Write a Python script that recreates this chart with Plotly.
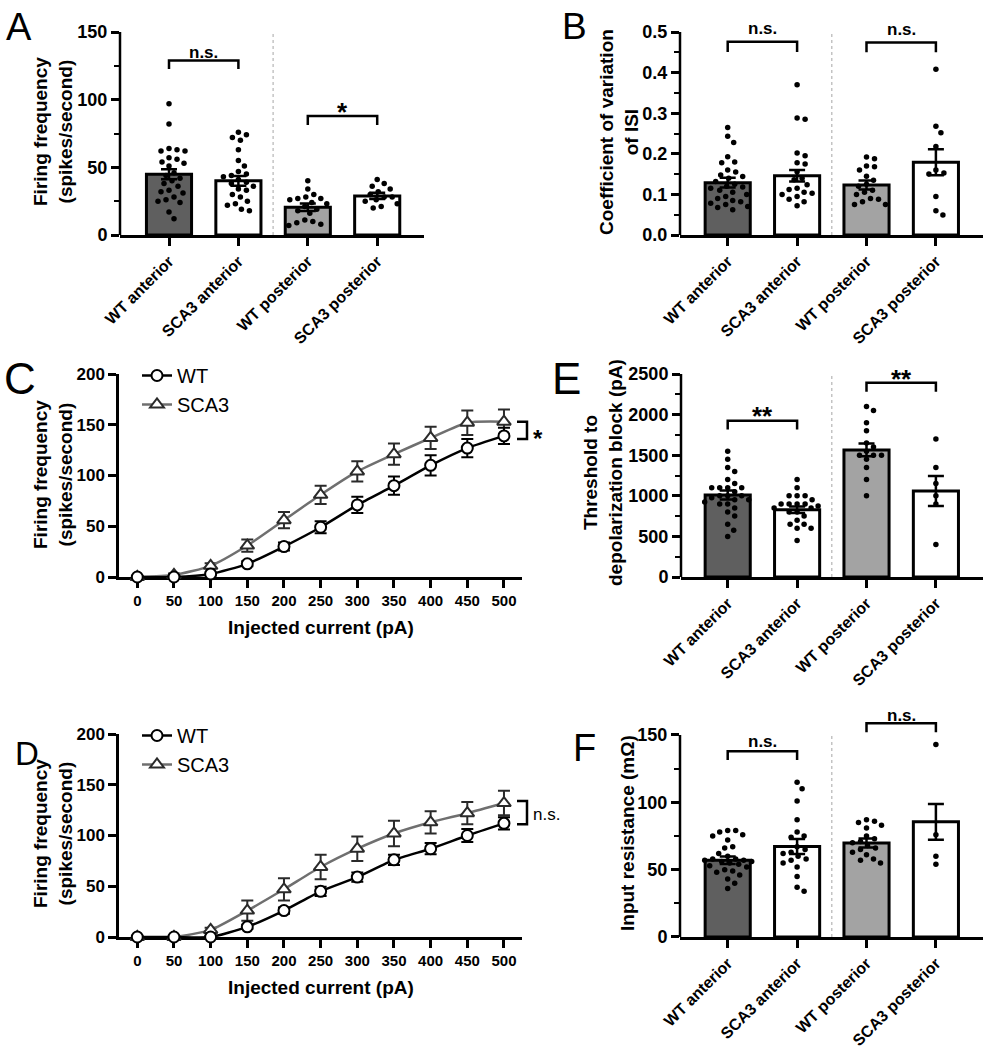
import plotly.graph_objects as go

# ---------------- data ----------------
categories = ["WT anterior", "SCA3 anterior", "WT posterior", "SCA3 posterior"]

# Panel A: firing frequency (spikes/second)
A_mean = [44.9, 40.0, 20.5, 28.9]
A_sem = [3.7, 3.6, 2.7, 2.3]
A_wt_ant = [97, 82, 64, 62, 63, 62, 57, 56, 54, 53, 51, 46, 44, 42, 40, 38, 36, 33, 32, 31, 28, 26, 25, 24, 17, 12]
A_sca3_ant = [76, 74, 72, 70, 63, 55, 51, 47, 45, 44, 43, 41, 39, 38, 36, 34, 33, 30, 28, 25, 23, 22, 19, 18]
A_wt_post = [40, 34, 30, 28, 27, 27, 26, 24, 23, 21, 19, 18, 16, 11, 10, 9, 8, 7]
A_sca3_post = [41, 38, 36, 34, 32, 30, 28, 28, 26, 25, 23, 21, 20]

# Panel B: coefficient of variation of ISI
B_mean = [0.129, 0.146, 0.123, 0.179]
B_sem = [0.012, 0.014, 0.011, 0.032]
B_wt_ant = [0.265, 0.243, 0.228, 0.193, 0.18, 0.178, 0.16, 0.155, 0.148, 0.144, 0.14, 0.132, 0.125, 0.12,
            0.118, 0.115, 0.11, 0.105, 0.1, 0.095, 0.09, 0.085, 0.082, 0.078, 0.075, 0.07, 0.068, 0.062]
B_sca3_ant = [0.37, 0.288, 0.285, 0.202, 0.195, 0.178, 0.175, 0.156, 0.14, 0.136, 0.124, 0.115, 0.112,
              0.105, 0.103, 0.1, 0.095, 0.088, 0.082, 0.072]
B_wt_post = [0.192, 0.188, 0.17, 0.168, 0.16, 0.145, 0.135, 0.125, 0.12, 0.11, 0.105, 0.1, 0.09, 0.088,
             0.082, 0.075, 0.075]
B_sca3_post = [0.408, 0.268, 0.252, 0.218, 0.16, 0.153, 0.15, 0.095, 0.06, 0.049]

# Panel E: threshold to depolarization block (pA)
E_mean = [1010, 829, 1565, 1060]
E_sem = [55, 40, 78, 185]
E_wt_ant = [1550, 1450, 1350, 1300, 1200, 1150, 1100, 1100, 1100, 1100, 1050, 1000, 1000, 1000, 975,
            950, 950, 925, 900, 900, 850, 800, 750, 650, 575, 500]
E_sca3_ant = [1200, 1100, 1000, 1000, 1000, 950, 900, 900, 900, 900, 875, 850, 850, 800, 800, 750, 700,
              650, 650, 600, 600, 450]
E_wt_post = [2100, 2050, 1900, 1800, 1650, 1600, 1550, 1500, 1500, 1500, 1450, 1350, 1200, 1000]
E_sca3_post = [1700, 1350, 1150, 1000, 900, 400]

# Panel F: input resistance
F_mean = [57.0, 67.2, 69.8, 85.5]
F_sem = [2.7, 5.5, 3.3, 13.2]
F_wt_ant = [79, 79, 78, 76, 75, 72, 67, 66, 62, 60, 58, 58, 57, 57, 56, 56, 55, 54, 53, 52, 50, 49, 48,
            46, 43, 40, 36]
F_sca3_ant = [115, 110, 101, 87, 78, 75, 74, 67, 65, 63, 62, 60, 58, 57, 55, 52, 45, 37, 34]
F_wt_post = [87, 86, 85, 83, 81, 75, 73, 71, 70, 68, 66, 65, 63, 61, 58, 57, 55]
F_sca3_post = [143, 76, 60, 54]

# Panels C / D: current injection (pA) vs firing frequency
current = [0, 50, 100, 150, 200, 250, 300, 350, 400, 450, 500]
C_wt = [0, 0, 3, 13, 30, 49, 71, 90, 110, 127, 139]
C_wt_sem = [1, 1, 1.5, 2.5, 4, 6, 8, 9, 10, 9, 8]
C_sca3 = [0, 2, 11, 31, 56, 81, 104, 121, 137, 152, 153]
C_sca3_sem = [1, 1.5, 2.5, 6, 8, 9, 10, 10.5, 11, 12, 12]
D_wt = [0, 0, 0, 10, 26, 45, 59, 76, 87, 100, 112]
D_wt_sem = [0.5, 0.5, 1, 2, 3, 4.5, 4.5, 5, 5.5, 6.5, 6]
D_sca3 = [0, 0, 7, 26, 47, 69, 87, 102, 113, 122, 132]
D_sca3_sem = [0.5, 0.5, 2, 10, 11, 12, 12, 12.5, 11, 11, 12]

# ---------------- layout helpers ----------------
W, H = 993, 1050
FONT = "Liberation Sans, Arial, sans-serif"


def px(x):
    return x / W


def py(y):
    return 1 - y / H


fig = go.Figure()
shapes = []
annotations = []
layout_axes = {}

bar_colors = ["#5f5f5f", "#ffffff", "#a3a3a3", "#ffffff"]
CAT_PX = 69.4  # pixels per category


def swarm(vals, ppu, dot=8.0, maxoff=24):
    """simple beeswarm: returns x offsets (pixels) for each value"""
    order = sorted(range(len(vals)), key=lambda i: -vals[i])
    placed = []
    offs = [0.0] * len(vals)
    cands = [0]
    for m in range(1, maxoff + 1):
        cands += [m, -m]
    for i in order:
        yv = vals[i] * ppu
        best, bestd = 0, -1
        for c in cands:
            dmin = min([((c - a) ** 2 + (yv - b) ** 2) ** 0.5 for a, b in placed] or [1e9])
            if dmin >= dot:
                best = c
                break
            if dmin > bestd:
                best, bestd = c, dmin
        offs[i] = best
        placed.append((best, yv))
    return offs


bar_panels = [
    dict(key="", xpx=(120, 424), c0=169, zero=235, top=32, vmax=150, vrange=150, dtick=50, minor=25,
         means=A_mean, sems=A_sem, dots=[A_wt_ant, A_sca3_ant, A_wt_post, A_sca3_post], tickfmt=None,
         brackets=[(0, 1, 129, 122.6, "n.s.", 134.5, 17, 0), (2, 3, 88, 81.3, "*", 95.3, 26, -6)],
         title="Firing frequency<br>(spikes/second)", tpos=(53, 132)),
    dict(key="2", xpx=(680, 983), c0=727.7, zero=235, top=32, vmax=0.5, vrange=0.5, dtick=0.1, minor=0.05,
         means=B_mean, sems=B_sem, dots=[B_wt_ant, B_sca3_ant, B_wt_post, B_sca3_post], tickfmt=".1f",
         brackets=[(0, 1, 0.476, 0.451, "n.s.", 0.509, 17, 0), (2, 3, 0.474, 0.45, "n.s.", 0.507, 17, 0)],
         title="Coefficient of variation<br>of ISI", tpos=(619, 132)),
    dict(key="4", xpx=(681, 983), c0=727.7, zero=577, top=374, vmax=2500, vrange=2500, dtick=500, minor=250,
         means=E_mean, sems=E_sem, dots=[E_wt_ant, E_sca3_ant, E_wt_post, E_sca3_post], tickfmt=None,
         brackets=[(0, 1, 1925, 1816, "**", 2056, 26, -6), (2, 3, 2393, 2282, "**", 2516, 26, -6)],
         title="Threshold to<br>depolarization block (pA)", tpos=(603, 473)),
    dict(key="6", xpx=(680, 983), c0=727.7, zero=937, top=735, vmax=150, vrange=170, dtick=50, minor=25,
         means=F_mean, sems=F_sem, dots=[F_wt_ant, F_sca3_ant, F_wt_post, F_sca3_post], tickfmt=None,
         brackets=[(0, 1, 138, 131.4, "n.s.", 145, 17, 0), (2, 3, 158.7, 152, "n.s.", 164.8, 17, 0)],
         title="Input resistance (mΩ)", tpos=(627, 833)),
]

for p in bar_panels:
    k = p["key"]
    xa, ya = "x" + k, "y" + k
    ppu = (p["zero"] - p["top"]) / p["vmax"]
    top_px = p["zero"] - p["vrange"] * ppu
    xr = [(p["xpx"][0] - p["c0"]) / CAT_PX, (p["xpx"][1] - p["c0"]) / CAT_PX]
    layout_axes["xaxis" + k] = dict(
        domain=[px(p["xpx"][0]), px(p["xpx"][1])], range=xr, anchor=ya, automargin=False,
        tickmode="array", tickvals=[0, 1, 2, 3], ticktext=categories, tickangle=-45,
        ticks="outside", ticklen=8, tickwidth=2.5, tickcolor="black",
        showline=True, linewidth=2.5, linecolor="black", showgrid=False, zeroline=False,
        tickfont=dict(family=FONT, size=16, color="black", weight="bold"),
    )
    yax = dict(
        domain=[py(p["zero"]), py(top_px)], range=[0, p["vrange"]], anchor=xa, automargin=False,
        dtick=p["dtick"], tick0=0, ticks="outside", ticklen=8, tickwidth=2.5, tickcolor="black",
        minor=dict(dtick=p["minor"], tick0=0, ticks="outside", ticklen=5, tickwidth=2, tickcolor="black",
                   showgrid=False),
        showline=False, showgrid=False, zeroline=False,
        tickfont=dict(family=FONT, size=18, color="black", weight="bold"),
    )
    if p["tickfmt"]:
        yax["tickformat"] = p["tickfmt"]
    layout_axes["yaxis" + k] = yax

    # y axis line
    shapes.append(dict(type="line", xref=xa + " domain", x0=0, x1=0, yref=ya, y0=0, y1=p["vmax"],
                       line=dict(color="black", width=2.5)))
    # dotted separator
    shapes.append(dict(type="line", xref=xa, x0=1.5, x1=1.5, yref=ya, y0=0, y1=p["vmax"],
                       line=dict(color="#b5b5b5", width=1.2, dash="dot"), layer="below"))

    fig.add_trace(go.Bar(
        x=[0, 1, 2, 3], y=p["means"], width=0.65, xaxis=xa, yaxis=ya, showlegend=False,
        marker=dict(color=bar_colors, line=dict(color="black", width=3)),
        error_y=dict(type="data", array=p["sems"], color="black", thickness=2.5, width=8),
    ))
    for ci, vals in enumerate(p["dots"]):
        offs = swarm(vals, ppu)
        fig.add_trace(go.Scatter(
            x=[ci + o / CAT_PX for o in offs], y=vals, mode="markers", xaxis=xa, yaxis=ya,
            showlegend=False, cliponaxis=False,
            marker=dict(color="black", size=5.5, line=dict(width=0)),
        ))
    for (c1, c2, yb, yl, txt, yt, fs, ysh) in p["brackets"]:
        shapes.append(dict(type="path", xref=xa, yref=ya,
                           path=f"M {c1},{yl} L {c1},{yb} L {c2},{yb} L {c2},{yl}",
                           line=dict(color="black", width=2.5)))
        # text placed in paper coordinates (annotations outside an axis range are hidden)
        annotations.append(dict(x=(c1 + c2) / 2, y=py(p["zero"] - yt * ppu), xref=xa, yref="paper",
                                text=txt, showarrow=False,
                                yshift=ysh, xanchor="center", yanchor="middle",
                                font=dict(family=FONT, size=fs, color="black", weight="bold")))
    annotations.append(dict(x=px(p["tpos"][0]), y=py(p["tpos"][1]), xref="paper", yref="paper",
                            text=p["title"], textangle=-90, showarrow=False, xanchor="center",
                            yanchor="middle",
                            font=dict(family=FONT, size=19, color="black", weight="bold")))

# ---------------- line panels C & D ----------------
line_panels = [
    dict(key="3", zero=577, top=374, wt=C_wt, wts=C_wt_sem, sc=C_sca3, scs=C_sca3_sem, legend="legend",
         sig="*", sig_size=24, sig_bold=True, br=(136, 153), sig_y=142, sig_shift=-6, xtitle_y=627,
         title_y=475, leg_y=356),
    dict(key="5", zero=937, top=734, wt=D_wt, wts=D_wt_sem, sc=D_sca3, scs=D_sca3_sem, legend="legend2",
         sig="n.s.", sig_size=17, sig_bold=False, br=(111, 134), sig_y=121, sig_shift=0, xtitle_y=987,
         title_y=834, leg_y=716),
]
XPPU = (467.3 - 137.3) / 450.0
for p in line_panels:
    k = p["key"]
    xa, ya = "x" + k, "y" + k
    layout_axes["xaxis" + k] = dict(
        domain=[px(119), px(522)], range=[(119 - 137.3) / XPPU, (522 - 137.3) / XPPU], anchor=ya,
        automargin=False,
        tickmode="array", tickvals=current, ticks="outside", ticklen=8, tickwidth=2.5, tickcolor="black",
        showline=True, linewidth=2.5, linecolor="black", showgrid=False, zeroline=False,
        layer="below traces",
        tickfont=dict(family=FONT, size=15, color="black", weight="bold"),
    )
    layout_axes["yaxis" + k] = dict(
        domain=[py(p["zero"]), py(p["top"])], range=[0, 200], anchor=xa, dtick=50, automargin=False,
        ticks="outside", ticklen=8, tickwidth=2.5, tickcolor="black",
        showline=True, linewidth=2.5, linecolor="black", showgrid=False, zeroline=False,
        layer="below traces",
        tickfont=dict(family=FONT, size=17, color="black", weight="bold"),
    )
    fig.add_trace(go.Scatter(
        x=current, y=p["sc"], name="SCA3", mode="lines+markers", xaxis=xa, yaxis=ya, legend=p["legend"],
        cliponaxis=False, line=dict(color="#6f6f6f", width=2.5, shape="spline", smoothing=0.6),
        marker=dict(symbol="triangle-up", size=12, color="white", line=dict(color="#2a2a2a", width=2)),
        error_y=dict(type="data", array=p["scs"], color="#2a2a2a", thickness=2, width=6),
    ))
    fig.add_trace(go.Scatter(
        x=current, y=p["wt"], name="WT", mode="lines+markers", xaxis=xa, yaxis=ya, legend=p["legend"],
        cliponaxis=False, line=dict(color="black", width=2.5, shape="spline", smoothing=0.6),
        marker=dict(symbol="circle", size=11, color="white", line=dict(color="black", width=2)),
        error_y=dict(type="data", array=p["wts"], color="black", thickness=2, width=6),
    ))
    y0, y1 = p["br"]
    shapes.append(dict(type="path", xref="paper", yref=ya,
                       path=f"M {px(517)},{y0} L {px(527)},{y0} L {px(527)},{y1} L {px(517)},{y1}",
                       line=dict(color="black", width=2.5)))
    annotations.append(dict(x=px(531), y=py(p["zero"] - p["sig_y"] * (p["zero"] - p["top"]) / 200.0),
                            xref="paper", yref="paper", text=p["sig"], showarrow=False,
                            xanchor="left", yanchor="middle", yshift=p["sig_shift"],
                            font=dict(family=FONT, size=p["sig_size"], color="black",
                                      weight="bold" if p["sig_bold"] else "normal")))
    annotations.append(dict(x=px(321), y=py(p["xtitle_y"]), xref="paper", yref="paper",
                            text="Injected current (pA)", showarrow=False, xanchor="center", yanchor="middle",
                            font=dict(family=FONT, size=19, color="black", weight="bold")))
    annotations.append(dict(x=px(53), y=py(p["title_y"]), xref="paper", yref="paper",
                            text="Firing frequency<br>(spikes/second)", textangle=-90, showarrow=False,
                            xanchor="center", yanchor="middle",
                            font=dict(family=FONT, size=19, color="black", weight="bold")))
    layout_axes[p["legend"]] = dict(x=px(137), y=py(p["leg_y"]), xanchor="left", yanchor="top",
                                    bgcolor="rgba(0,0,0,0)", traceorder="reversed",
                                    font=dict(family=FONT, size=20, color="black"),
                                    tracegroupgap=0, itemwidth=30)

# ---------------- panel letters ----------------
letters = [("A", 19, 27, 38), ("B", 574, 26, 37), ("C", 20, 378, 44), ("E", 566, 378, 44),
           ("D", 27, 753, 33), ("F", 584, 748, 38)]
for t, x, y, s in letters:
    annotations.append(dict(x=px(x), y=py(y), xref="paper", yref="paper", text=t, showarrow=False,
                            xanchor="center", yanchor="middle",
                            font=dict(family=FONT, size=s, color="black")))

fig.update_layout(
    template="none",
    width=W, height=H, margin=dict(l=0, r=0, t=0, b=0, autoexpand=False),
    paper_bgcolor="white", plot_bgcolor="white", showlegend=True,
    shapes=shapes, annotations=annotations, **layout_axes,
)

fig.write_html("out.html", config={"displayModeBar": False},
               post_script="document.body.style.margin='0px';document.body.style.overflow='hidden';")
